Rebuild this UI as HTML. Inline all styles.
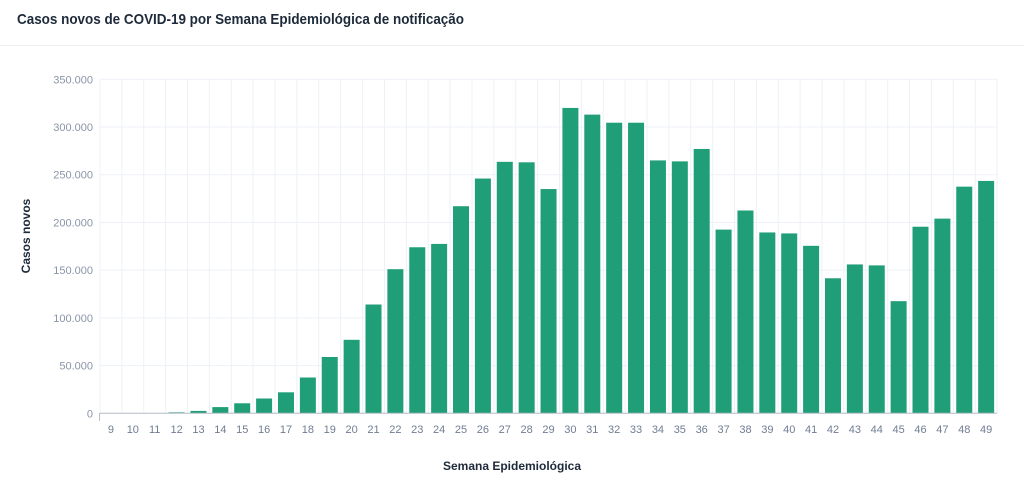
<!DOCTYPE html><html><head><meta charset="utf-8"><style>body{margin:0;background:#fff;font-family:"Liberation Sans",sans-serif}</style></head><body>
<svg width="1024" height="479" xmlns="http://www.w3.org/2000/svg" font-family="Liberation Sans, sans-serif">
<text x="17" y="24" font-size="15" font-weight="bold" fill="#1e2a3a" textLength="447" lengthAdjust="spacingAndGlyphs">Casos novos de COVID-19 por Semana Epidemiológica de notificação</text>
<line x1="0" y1="45.5" x2="1024" y2="45.5" stroke="#eceef2"/>
<g id="g"></g>
<text x="512" y="470" font-size="12" font-weight="bold" fill="#1e2a3a" text-anchor="middle">Semana Epidemiológica</text>
<text transform="translate(30,236) rotate(-90)" font-size="12" font-weight="bold" fill="#1e2a3a" text-anchor="middle">Casos novos</text>
</svg>
<script>
var v=[0,0,0,1000,2500,6500,10500,15500,22000,37500,59000,77000,114000,151000,174000,177500,217000,246000,263500,263000,235000,320000,313000,304500,304500,265000,264000,277000,192500,212500,189500,188500,175500,141500,156000,155000,117500,195500,204000,237500,243500];
var s='',L=100,W=21.88,Y0=413.3,K=334/350000;
for(var i=0;i<=7;i++){var y=Y0-i*50000*K;s+='<line x1="100" x2="997" y1="'+y+'" y2="'+y+'" stroke="#edf1f7"/>';s+='<text x="93" y="'+(y+4)+'" font-size="11" fill="#8a95a8" text-anchor="end">'+(i?i*50+'.000':'0')+'</text>';}
for(var i=0;i<=41;i++){var x=L+i*W;s+='<line x1="'+x+'" x2="'+x+'" y1="79" y2="413" stroke="#edf1f7"/>';}
for(var i=0;i<41;i++){var c=L+i*W+W/2,h=v[i]*K;s+='<rect x="'+(c-8)+'" y="'+(Y0-h)+'" width="16" height="'+h+'" fill="#1f9e77"/>';s+='<text x="'+c+'" y="433" font-size="11" fill="#6f7d92" text-anchor="middle">'+(i+9)+'</text>';}
s+='<line x1="100" x2="997" y1="413.3" y2="413.3" stroke="#b8bec8"/><line x1="99.5" x2="99.5" y1="413" y2="421" stroke="#b8bec8"/>';
document.getElementById('g').innerHTML=s;
</script>
</body></html>
